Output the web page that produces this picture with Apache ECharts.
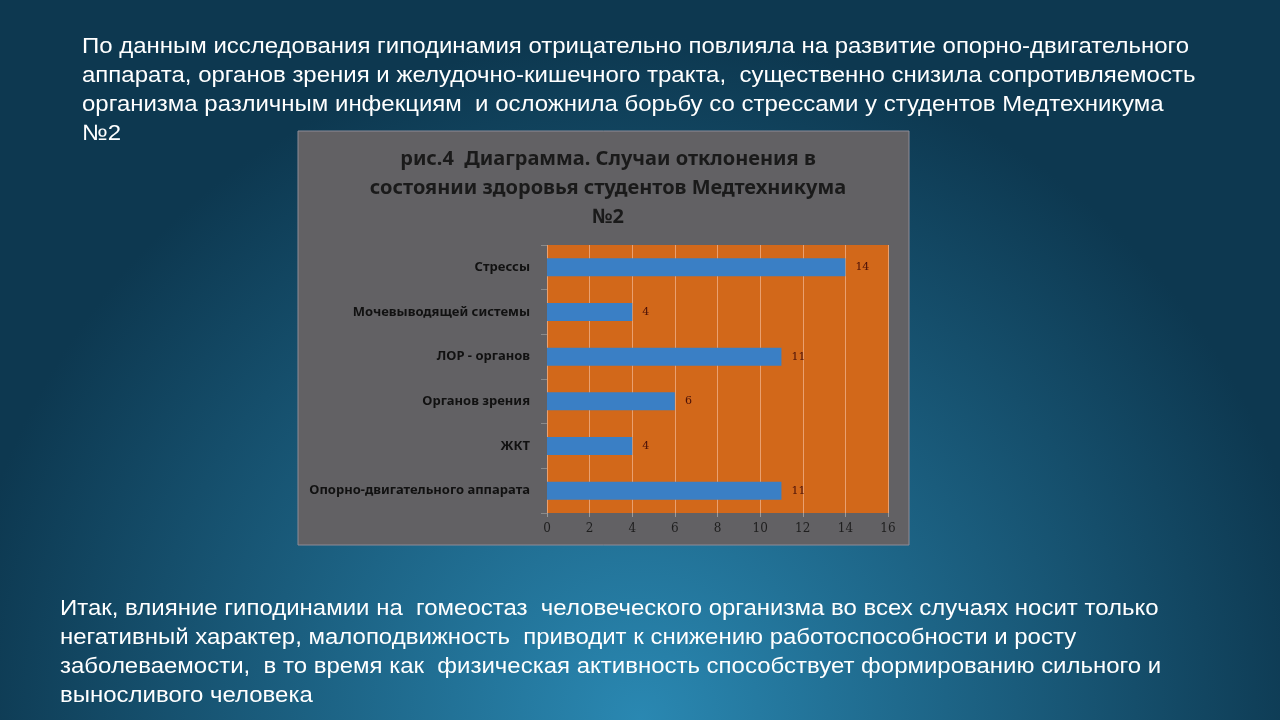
<!DOCTYPE html>
<html><head><meta charset="utf-8">
<script src="https://cdn.jsdelivr.net/npm/echarts@6/dist/echarts.min.js"></script>
<style>html,body{margin:0;padding:0;background:#0e3a52;}#c{width:1280px;height:720px;}</style>
</head><body><div id="c"></div>
<script>
const categories = ['Стрессы','Мочевыводящей системы','ЛОР - органов','Органов зрения','ЖКТ','Опорно-двигательного аппарата'];
const values = [14, 4, 11, 6, 4, 11];
const xTicks = [0, 2, 4, 6, 8, 10, 12, 14, 16];
const titleText = 'рис.4  Диаграмма. Случаи отклонения в\nсостоянии здоровья студентов Медтехникума\n№2';
const topLines = [
  'По данным исследования гиподинамия отрицательно повлияла на развитие опорно-двигательного',
  'аппарата, органов зрения и желудочно-кишечного тракта,  существенно снизила сопротивляемость',
  'организма различным инфекциям  и осложнила борьбу со стрессами у студентов Медтехникума',
  '№2'
];
const bottomLines = [
  'Итак, влияние гиподинамии на  гомеостаз  человеческого организма во всех случаях носит только',
  'негативный характер, малоподвижность  приводит к снижению работоспособности и росту',
  'заболеваемости,  в то время как  физическая активность способствует формированию сильного и',
  'выносливого человека'
];

const chart = echarts.init(document.getElementById('c'), null, {renderer:'canvas'});
const graphics = [
  {type:'rect', shape:{x:298, y:131, width:611, height:414}, style:{fill:'#626164', stroke:'#8e8c97', lineWidth:1}, z:-10}
];
const txtFont = '22px "Liberation Sans", Arial, sans-serif';
topLines.forEach((t,i)=>graphics.push({type:'text', x:82, y:47+29*i, scaleX:1.09, style:{text:t, fill:'#ffffff', font:txtFont, textVerticalAlign:'middle'}}));
bottomLines.forEach((t,i)=>graphics.push({type:'text', x:60, y:609+29*i, scaleX:1.09, style:{text:t, fill:'#ffffff', font:txtFont, textVerticalAlign:'middle'}}));

chart.setOption({
  backgroundColor: new echarts.graphic.RadialGradient(0.5, 1.0, 0.95, [
    {offset:0, color:'#2a88b2'},
    {offset:1, color:'#0d3850'}
  ]),
  animation:false,
  title:{text:titleText, left:603, top:140, textAlign:'center',
    textStyle:{fontFamily:'"Noto Sans", sans-serif', fontWeight:'bold', fontSize:20, lineHeight:29, color:'#1a1a1a'}},
  graphic: graphics,
  grid:{left:547, right:392, top:245, bottom:207, show:true, backgroundColor:'#d2681a', borderWidth:0},
  xAxis:{type:'value', min:0, max:16, interval:2,
    axisLine:{show:false}, axisTick:{show:true, length:4, lineStyle:{color:'#9a9a9a'}},
    splitLine:{show:true, lineStyle:{color:'#e9a070', width:1}},
    axisLabel:{color:'#1e1e1e', fontSize:12, fontFamily:'"DejaVu Serif", serif', margin:10,
      formatter:v=>xTicks.includes(v)?String(v):''}},
  yAxis:{type:'category', data:categories, inverse:true,
    axisLine:{show:false}, axisTick:{show:true, length:6, lineStyle:{color:'#8a8a8a'}},
    axisLabel:{color:'#111', fontSize:13, fontWeight:'bold', fontFamily:'"Noto Sans", sans-serif', margin:17}},
  series:[{type:'bar', data:values, barWidth:18, itemStyle:{color:'#3a7fc5'},
    label:{show:true, position:'right', distance:10, color:'#4a1008', fontSize:11, fontFamily:'"DejaVu Serif", serif'}}]
});
</script></body></html>
